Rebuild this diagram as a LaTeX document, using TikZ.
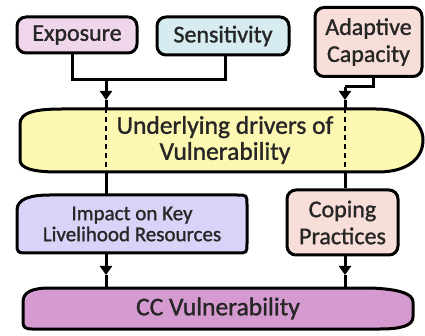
\documentclass[tikz,border=0pt]{standalone}
\usepackage{fontspec}
\setmainfont{Carlito}[RawFeature={embolden=1.2}]
\usetikzlibrary{arrows.meta}
\definecolor{expofill}{RGB}{240,214,234}
\definecolor{sensfill}{RGB}{214,236,240}
\definecolor{peachfill}{RGB}{248,222,216}
\definecolor{drvfill}{RGB}{252,248,178}
\definecolor{impfill}{RGB}{216,212,248}
\definecolor{ccfill}{RGB}{213,154,208}
\tikzset{
rnd_box/.style={
	% The shape:
	rectangle, rounded corners=9pt,
	% The border:
	line width=3pt, draw=black,
	% The text:
	text=black!85, align=center, inner sep=0pt,
	font=\fontsize{24}{27}\selectfont
},
txt_box/.style={
	% no border, the outline is drawn by hand
	rectangle, inner sep=0pt,
	text=black!85, align=center
},
shape_line/.style={line width=3pt, draw=black, line join=round},
link/.style={line width=3pt},
link_arrow/.style={line width=3pt, -{Triangle[width=12pt,length=9pt]}},
drv_dash/.style={line width=1.5pt, dash pattern=on 4.5pt off 4.5pt}
}
\begin{document}
\begin{tikzpicture}[x=1pt, y=-1pt]
	\useasboundingbox (0,0) rectangle (425,336);

	% hand drawn outlines
	\draw[shape_line, fill=drvfill] (20,124) .. controls (20,112) and (36,109) .. (62,109)
		-- (376,109) .. controls (408,109) and (423,124) .. (423,140)
		.. controls (423,158) and (408,172) .. (378,172)
		-- (58,172) .. controls (32,172) and (20,168) .. (20,160) -- cycle;
	\draw[shape_line, fill=impfill] (17,210) .. controls (17,199) and (30,195) .. (50,195)
		-- (237,195) .. controls (247,195) .. (247,205)
		-- (247,243) .. controls (247,253) .. (237,253)
		-- (30,253) .. controls (17,253) .. (17,243) -- cycle;
	\draw[shape_line, fill=ccfill] (23,302) .. controls (23,292) and (32,288) .. (50,288)
		-- (370,288) .. controls (400,289) and (413,294) .. (413,302)
		-- (413,317) .. controls (413,326) and (400,329) .. (380,329)
		-- (32,329) .. controls (25,329) and (23,327) .. (23,322) -- cycle;

	% boxes
	\node[rnd_box, fill=expofill, minimum width=120pt, minimum height=36pt] (expo) at (77,35) {Exposure};
	\node[rnd_box, fill=sensfill, minimum width=132pt, minimum height=38pt] (sens) at (223,36) {Sensitivity};
	\node[rnd_box, fill=peachfill, minimum width=107pt, minimum height=69pt] (adap) at (368.5,42) {Adaptive\\Capacity};
	\node[txt_box, minimum width=398pt, minimum height=63pt, font=\fontsize{25.5}{26}\selectfont] (drv) at (225,140) {Underlying drivers of\\Vulnerability};
	\node[txt_box, minimum width=230pt, minimum height=58pt, font=\fontsize{21}{21}\selectfont] (imp) at (132,224) {Impact on Key\\Livelihood Resources};
	\node[rnd_box, fill=peachfill, minimum width=111pt, minimum height=65pt] (cop) at (342.5,222.5) {Coping\\Practices};
	\node[txt_box, minimum width=390pt, minimum height=41pt, font=\fontsize{25.5}{26}\selectfont] (ccv) at (218,308.5) {CC Vulnerability};

	% joints and arrow tips
	\coordinate (join_l) at (106,80);
	\coordinate (tip_l) at (106,100);
	\coordinate (join_r) at (345,87);
	\coordinate (tip_r) at (345,100);
	\coordinate (tip_imp) at (106,275);
	\coordinate (tip_cop) at (345,275);

	% top links
	\draw[link] ([xshift=-5pt]expo.south) |- (join_l) -| ([xshift=2pt]sens.south);
	\draw[link_arrow] (join_l) -- (tip_l);
	\draw[link] (tip_l) -- (tip_l |- drv.north);
	\draw[link] ([xshift=5pt]adap.south) |- (join_r);
	\draw[link_arrow] (join_r) -- (tip_r);
	\draw[link] (tip_r) -- (tip_r |- drv.north);

	% through the drivers
	\draw[drv_dash] (tip_l |- drv.north) -- (tip_l |- drv.south);
	\draw[drv_dash] (tip_r |- drv.north) -- (tip_r |- drv.south);
	\draw[link] (tip_l |- drv.south) -- (tip_l |- imp.north);
	\draw[link] (tip_r |- drv.south) -- (tip_r |- cop.north);

	% bottom links
	\draw[link_arrow] (tip_l |- imp.south) -- (tip_imp);
	\draw[link] (tip_imp) -- (tip_imp |- ccv.north);
	\draw[link_arrow] (tip_r |- cop.south) -- (tip_cop);
	\draw[link] (tip_cop) -- (tip_cop |- ccv.north);
\end{tikzpicture}
\end{document}
